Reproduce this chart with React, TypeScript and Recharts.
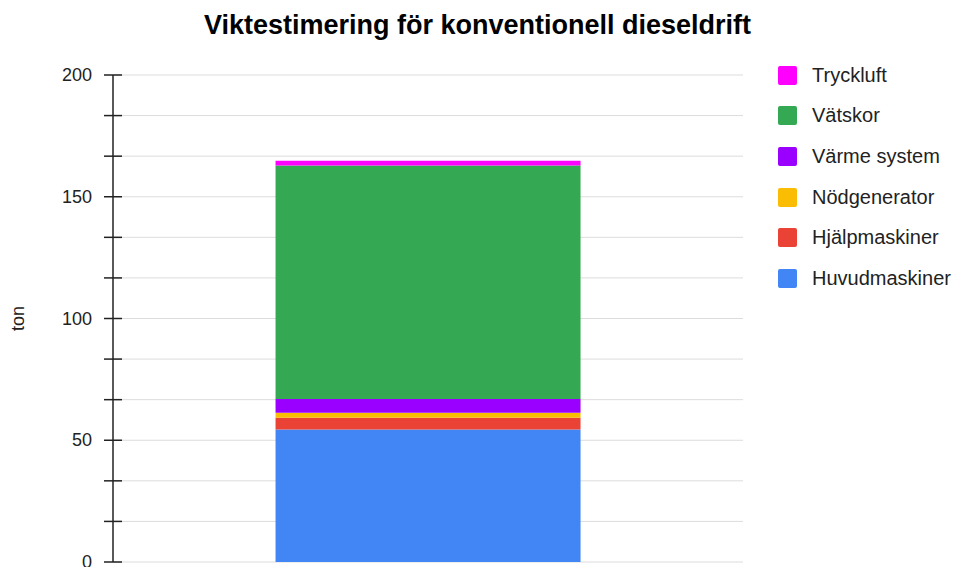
import { BarChart, Bar, XAxis, YAxis, CartesianGrid, Legend } from 'recharts';

// Stack order bottom -> top
const seriesNames = ['Huvudmaskiner', 'Hjälpmaskiner', 'Nödgenerator', 'Värme system', 'Vätskor', 'Tryckluft'];
const seriesColors = ['#4285F4', '#EA4335', '#FBBC04', '#9900FF', '#34A853', '#FF00FF'];
const seriesValues = [54.4, 4.8, 2.1, 5.6, 95.9, 2.0];
const categories = ['Konventionell diesel'];

const majorTicks = [0, 50, 100, 150, 200];
// two minor ticks between each major tick
const allTicks = majorTicks.flatMap((t, i) =>
  i < majorTicks.length - 1 ? [t, t + 50 / 3, t + 100 / 3] : [t]
);

const data = categories.map((name) => {
  const row: Record<string, number | string> = { name };
  seriesNames.forEach((s, i) => {
    row[s] = seriesValues[i];
  });
  return row;
});

const font = 'Arial, "Liberation Sans", sans-serif';

const YTick = (props: any) => {
  const { x, y, payload } = props;
  const isMajor = majorTicks.includes(payload.value);
  return (
    <g>
      <line x1={x - 9} x2={x + 9} y1={y} y2={y} stroke="#222" strokeWidth={1.5} />
      {isMajor && (
        <text x={x - 21} y={y} dy={6} textAnchor="end" fontSize={18} fill="#222" fontFamily={font}>
          {payload.value}
        </text>
      )}
    </g>
  );
};

const renderLegend = () => {
  const items = seriesNames.map((n, i) => ({ n, c: seriesColors[i] })).reverse();
  return (
    <div style={{ fontFamily: font }}>
      {items.map((it) => (
        <div key={it.n} style={{ display: 'flex', alignItems: 'center', height: 40.6 }}>
          <div style={{ width: 19, height: 19, background: it.c, borderRadius: 2, marginRight: 15 }} />
          <span style={{ fontSize: 20, color: '#222' }}>{it.n}</span>
        </div>
      ))}
    </div>
  );
};

export default function App() {
  return (
    <div style={{ position: 'absolute', left: 0, top: 0, width: 955, height: 567, background: '#fff' }}>
      <div
        style={{
          position: 'absolute',
          top: 10,
          left: 0,
          width: 955,
          textAlign: 'center',
          fontFamily: font,
          fontWeight: 'bold',
          fontSize: 27,
          color: '#000',
        }}
      >
        Viktestimering för konventionell dieseldrift
      </div>
      <BarChart
        width={955}
        height={567}
        data={data}
        margin={{ top: 75, right: 212, bottom: 5, left: 0 }}
        barCategoryGap="25.8%"
      >
        <CartesianGrid vertical={false} stroke="#dcdcdc" />
        <XAxis dataKey="name" tick={false} tickLine={false} axisLine={{ stroke: '#222' }} height={0} />
        <YAxis
          width={113}
          domain={[0, 200]}
          ticks={allTicks}
          interval={0}
          tickSize={0}
          tickMargin={0}
          tickLine={false}
          axisLine={{ stroke: '#222', strokeWidth: 1.5 }}
          tick={<YTick />}
          label={{
            value: 'ton',
            angle: -90,
            position: 'insideLeft',
            offset: 18,
            style: { textAnchor: 'middle', fontSize: 18, fill: '#222', fontFamily: font },
          }}
        />
        <Legend
          layout="vertical"
          align="center"
          verticalAlign="middle"
          wrapperStyle={{ left: 778, top: 55 }}
          content={renderLegend}
        />
        {seriesNames.map((s, i) => (
          <Bar key={s} dataKey={s} stackId="a" fill={seriesColors[i]} isAnimationActive={false} />
        ))}
      </BarChart>
    </div>
  );
}
